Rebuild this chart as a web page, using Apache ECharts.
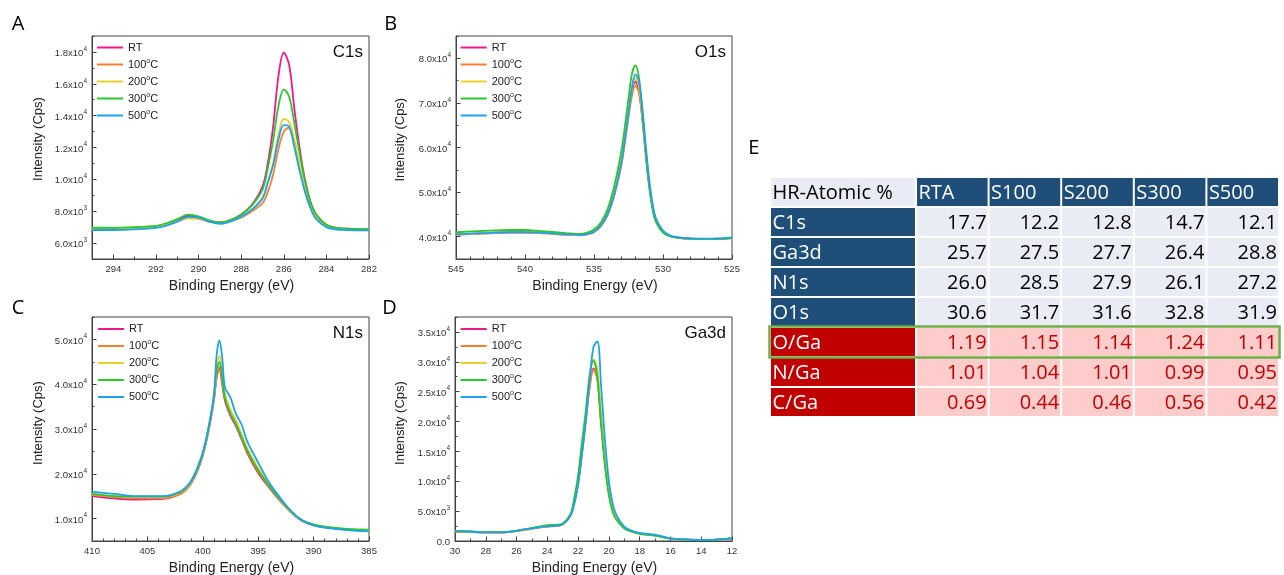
<!DOCTYPE html>
<html><head><meta charset="utf-8">
<script src="https://cdn.jsdelivr.net/npm/echarts@6/dist/echarts.min.js"></script>
<style>html,body{margin:0;padding:0;background:#fff}#c{width:1284px;height:575px}</style>
</head><body><div id="c"></div>
<script>
// ---------- series meta ----------
const seriesNames = ['RT', '100°C', '200°C', '300°C', '500°C'];
const seriesColors = ['#ec1a8a', '#f28030', '#e6d02a', '#2bc72b', '#1da1f2'];

// ---------- A: C1s ----------
const c1sEnergy = [295, 294, 293, 292, 291.5, 291, 290.5, 290, 289.5, 289, 288.5, 288, 287.5, 287, 286.75, 286.5, 286.25, 286, 285.75, 285.5, 285.25, 285, 284.75, 284.5, 284, 283.5, 283, 282.5, 282];
const c1sRT   = [6900, 6900, 6950, 7050, 7200, 7450, 7700, 7650, 7400, 7300, 7450, 7800, 8400, 9550, 11000, 13300, 16500, 17950, 17200, 14400, 11900, 9950, 8600, 7800, 7150, 6950, 6900, 6880, 6850];
const c1s100  = [6880, 6870, 6900, 7000, 7150, 7350, 7560, 7520, 7350, 7270, 7380, 7600, 8000, 8500, 9200, 10300, 11900, 13000, 13250, 12200, 10700, 9250, 8250, 7600, 7050, 6900, 6870, 6850, 6850];
const c1s200  = [6880, 6880, 6920, 7000, 7150, 7380, 7550, 7530, 7350, 7270, 7380, 7650, 8100, 8850, 9800, 11000, 12800, 13800, 13600, 12500, 10900, 9300, 8300, 7650, 7050, 6900, 6870, 6860, 6850];
const c1s300  = [6970, 6960, 7000, 7080, 7250, 7500, 7780, 7680, 7420, 7300, 7450, 7780, 8350, 9350, 10700, 12450, 14600, 15650, 15200, 13500, 11600, 9850, 8600, 7850, 7150, 6950, 6900, 6880, 6870];
const c1s500  = [6820, 6820, 6860, 6950, 7100, 7350, 7650, 7600, 7350, 7200, 7350, 7650, 8100, 8800, 9800, 10900, 12500, 13400, 13300, 12000, 10500, 9200, 8200, 7550, 7000, 6850, 6820, 6800, 6800];
const c1sXTicks = [282, 284, 286, 288, 290, 292, 294];
const c1sYTicks = [6000, 8000, 10000, 12000, 14000, 16000, 18000];

// ---------- B: O1s ----------
const o1sEnergy = [545, 543, 541, 540, 539, 537, 536, 535.5, 535, 534.5, 534, 533.5, 533, 532.75, 532.5, 532.25, 532, 531.75, 531.5, 531.25, 531, 530.75, 530.5, 530, 529.5, 529, 528, 527, 526, 525];
const o1sRT   = [40500, 40800, 41000, 41000, 40900, 40500, 40400, 40600, 41200, 42600, 45300, 50000, 57000, 62000, 67500, 72500, 74800, 72800, 66500, 58500, 51500, 46500, 43500, 41000, 40100, 39800, 39500, 39450, 39500, 39700];
const o1s100  = [40400, 40700, 40900, 40900, 40800, 40400, 40300, 40500, 41000, 42300, 44900, 49500, 56300, 61300, 66800, 71600, 73800, 72300, 66500, 58800, 51800, 46700, 43600, 41100, 40200, 39850, 39550, 39500, 39550, 39750];
const o1s200  = [40500, 40800, 41000, 41000, 40900, 40500, 40400, 40600, 41200, 42600, 45300, 50200, 57200, 62300, 67800, 73200, 75600, 73800, 67500, 59300, 52000, 46800, 43700, 41100, 40200, 39850, 39550, 39500, 39550, 39750];
const o1s300  = [41000, 41300, 41500, 41500, 41300, 40800, 40600, 40900, 41600, 43200, 46300, 51800, 59500, 65000, 71000, 76500, 78400, 75800, 68000, 58800, 51300, 46000, 43200, 40900, 40100, 39800, 39550, 39500, 39500, 39700];
const o1s500  = [40500, 40800, 41000, 41000, 40900, 40500, 40400, 40600, 41100, 42500, 45100, 49900, 56800, 62000, 67600, 73500, 76400, 75000, 69000, 60500, 52800, 47300, 44000, 41400, 40300, 39900, 39600, 39550, 39600, 39850];
const o1sXTicks = [525, 530, 535, 540, 545];
const o1sYTicks = [40000, 50000, 60000, 70000, 80000];

// ---------- C: N1s ----------
const n1sEnergy = [410, 408, 406, 404, 403, 402, 401.5, 401, 400.5, 400, 399.5, 399, 398.75, 398.5, 398.25, 398, 397.5, 397, 396.5, 396, 395, 394, 393, 392, 391, 390, 389, 387, 385];
const n1sRT   = [15000, 14500, 14250, 14350, 14600, 15600, 16600, 18200, 20800, 24300, 29500, 36500, 41500, 43500, 40000, 36300, 32900, 30600, 27700, 24700, 20200, 16900, 13900, 11300, 9400, 8500, 8050, 7550, 7300];
const n1s100  = [15300, 14800, 14500, 14500, 14700, 15500, 16400, 18000, 20500, 24000, 29200, 36300, 41800, 43900, 40500, 36800, 33300, 31000, 28000, 25000, 20500, 17100, 14000, 11300, 9450, 8550, 8100, 7600, 7350];
const n1s200  = [15500, 15000, 14800, 14800, 15000, 15900, 16800, 18400, 21000, 24500, 29800, 37000, 43500, 46300, 42800, 37800, 34300, 31900, 28800, 25800, 21300, 17500, 14200, 11400, 9450, 8550, 8100, 7600, 7400];
const n1s300  = [15500, 15000, 14900, 14900, 15100, 16000, 17000, 18700, 21300, 24800, 30200, 37200, 43200, 45000, 41500, 37000, 33500, 31100, 28200, 25300, 20800, 17300, 14200, 11500, 9600, 8700, 8200, 7700, 7550];
const n1s500  = [16000, 15500, 15000, 15000, 15200, 16100, 17000, 18500, 21000, 24500, 29800, 37500, 46500, 49800, 46000, 39300, 37000, 33300, 31000, 27300, 22500, 18000, 14600, 11600, 9500, 8500, 8000, 7450, 7150];
const n1sXTicks = [385, 390, 395, 400, 405, 410];
const n1sYTicks = [10000, 20000, 30000, 40000, 50000];

// ---------- D: Ga3d ----------
const ga3dEnergy = [30, 29, 28, 27, 26, 25, 24, 23.5, 23, 22.5, 22.25, 22, 21.75, 21.5, 21.25, 21, 20.75, 20.5, 20.25, 20, 19.75, 19.5, 19, 18.5, 18, 17, 16, 15, 14, 13, 12];
const ga3dRT  = [1650, 1550, 1450, 1450, 1700, 2100, 2450, 2550, 2800, 4300, 6500, 9900, 15000, 20500, 26000, 28900, 27000, 19500, 13000, 8200, 5200, 3700, 2200, 1600, 1250, 950, 400, 230, 180, 230, 450];
const ga3d100 = [1550, 1500, 1400, 1400, 1650, 2050, 2400, 2500, 2750, 4200, 6300, 9600, 14600, 20000, 25600, 28700, 27200, 20000, 13400, 8500, 5400, 3800, 2250, 1600, 1250, 950, 420, 240, 180, 230, 450];
const ga3d200 = [1650, 1550, 1450, 1450, 1700, 2100, 2500, 2600, 2850, 4400, 6700, 10200, 15500, 21000, 27200, 30400, 28800, 21000, 13800, 8500, 5300, 3700, 2200, 1600, 1250, 950, 400, 230, 180, 230, 450];
const ga3d300 = [1700, 1600, 1500, 1500, 1750, 2200, 2650, 2700, 2950, 4500, 7200, 11000, 16500, 21800, 27800, 30200, 27500, 19500, 12500, 7600, 4800, 3500, 2100, 1550, 1200, 900, 380, 220, 170, 220, 430];
const ga3d500 = [1600, 1550, 1450, 1450, 1700, 2100, 2450, 2550, 2800, 4200, 6200, 9400, 14500, 20100, 27000, 32500, 33400, 25700, 16700, 10000, 6200, 4300, 2400, 1700, 1350, 1050, 450, 250, 180, 230, 480];
const ga3dXTicks = [12, 14, 16, 18, 20, 22, 24, 26, 28, 30];
const ga3dYTicks = [0, 5000, 10000, 15000, 20000, 25000, 30000, 35000];

// ---------- E: table ----------
const tableCorner = 'HR-Atomic %';
const tableCols = ['RTA', 'S100', 'S200', 'S300', 'S500'];
const atomicRows = ['C1s', 'Ga3d', 'N1s', 'O1s'];
const atomicC1s  = [17.7, 12.2, 12.8, 14.7, 12.1];
const atomicGa3d = [25.7, 27.5, 27.7, 26.4, 28.8];
const atomicN1s  = [26.0, 28.5, 27.9, 26.1, 27.2];
const atomicO1s  = [30.6, 31.7, 31.6, 32.8, 31.9];
const ratioRows = ['O/Ga', 'N/Ga', 'C/Ga'];
const ratioOGa = [1.19, 1.15, 1.14, 1.24, 1.11];
const ratioNGa = [1.01, 1.04, 1.01, 0.99, 0.95];
const ratioCGa = [0.69, 0.44, 0.46, 0.56, 0.42];

// ---------- layout ----------
const FONT = "'Liberation Sans', Arial, sans-serif";
const TFONT = "'Open Sans', 'Noto Sans', sans-serif";
const AX = '#444';

const panels = [
  {letter: 'A', lx: 11.7, ly: 24, title: 'C1s', energy: c1sEnergy, ys: [c1sRT, c1s100, c1s200, c1s300, c1s500],
   g: [92, 36, 277, 223], xMin: 282, xMax: 295, xTicks: c1sXTicks, xMinor: 1, yMin: 5000, yMax: 19000, yTicks: c1sYTicks, yMinor: 1000,
   leg: [97, 40.5], yTitleX: 38.3, yTitleY: 139, xTitleY: 286},
  {letter: 'B', lx: 384.3, ly: 24, title: 'O1s', energy: o1sEnergy, ys: [o1sRT, o1s100, o1s200, o1s300, o1s500],
   g: [456, 36, 276, 223], xMin: 525, xMax: 545, xTicks: o1sXTicks, xMinor: 1, yMin: 35000, yMax: 85000, yTicks: o1sYTicks, yMinor: 5000,
   leg: [460.7, 40.5], yTitleX: 400.7, yTitleY: 139.7, xTitleY: 286},
  {letter: 'C', lx: 11.7, ly: 308, title: 'N1s', energy: n1sEnergy, ys: [n1sRT, n1s100, n1s200, n1s300, n1s500],
   g: [92, 317, 277, 224], xMin: 385, xMax: 410, xTicks: n1sXTicks, xMinor: 1, yMin: 5000, yMax: 55000, yTicks: n1sYTicks, yMinor: 5000,
   leg: [98, 322], yTitleX: 38.3, yTitleY: 423, xTitleY: 568},
  {letter: 'D', lx: 382.3, ly: 308, title: 'Ga3d', energy: ga3dEnergy, ys: [ga3dRT, ga3d100, ga3d200, ga3d300, ga3d500],
   g: [455, 317, 277, 224], xMin: 12, xMax: 30, xTicks: ga3dXTicks, xMinor: 1, yMin: 0, yMax: 37500, yTicks: ga3dYTicks, yMinor: 2500,
   leg: [460.7, 322], yTitleX: 400.7, yTitleY: 423, xTitleY: 568}
];

function sciLabel(v) {
  if (v === 0) return '{m|0.0}';
  const e = Math.floor(Math.log10(v) + 1e-9);
  const m = (v / Math.pow(10, e)).toFixed(1);
  return '{m|' + m + 'x10}{s|' + e + '}';
}
const sciRich = {
  m: {fontSize: 9.5, color: '#333', fontFamily: FONT, lineHeight: 13, verticalAlign: 'bottom'},
  s: {fontSize: 6.5, color: '#333', fontFamily: FONT, lineHeight: 6, verticalAlign: 'top'}
};

const option = {animation: false, backgroundColor: '#fff', grid: [], xAxis: [], yAxis: [], series: [], legend: [], graphic: []};

panels.forEach((p, i) => {
  option.grid.push({left: p.g[0], top: p.g[1], width: p.g[2], height: p.g[3], show: true, borderColor: AX, borderWidth: 1, backgroundColor: 'transparent'});
  option.xAxis.push({type: 'value', gridIndex: i, position: 'bottom', min: p.xMin, max: p.xMax, inverse: true,
    axisLine: {show: true, onZero: false, lineStyle: {color: AX, width: 1}},
    axisTick: {show: true, inside: true, length: 4.5, lineStyle: {color: AX}, customValues: p.xTicks},
    axisLabel: {show: true, customValues: p.xTicks, color: '#333', fontSize: 9.5, fontFamily: FONT, margin: 5, formatter: v => String(v)},
    splitLine: {show: false}});
  option.xAxis.push({type: 'value', gridIndex: i, position: 'bottom', min: p.xMin, max: p.xMax, interval: p.xMinor, inverse: true,
    axisLine: {show: false, onZero: false}, axisTick: {show: true, inside: true, length: 2.5, lineStyle: {color: AX}},
    axisLabel: {show: false}, splitLine: {show: false}});
  option.yAxis.push({type: 'value', gridIndex: i, position: 'left', min: p.yMin, max: p.yMax,
    axisLine: {show: true, onZero: false, lineStyle: {color: AX, width: 1}},
    axisTick: {show: true, inside: true, length: 4.5, lineStyle: {color: AX}, customValues: p.yTicks},
    axisLabel: {show: true, customValues: p.yTicks, margin: 5, formatter: sciLabel, rich: sciRich},
    splitLine: {show: false}});
  option.yAxis.push({type: 'value', gridIndex: i, position: 'left', min: p.yMin, max: p.yMax, interval: p.yMinor,
    axisLine: {show: false, onZero: false}, axisTick: {show: true, inside: true, length: 2.5, lineStyle: {color: AX}},
    axisLabel: {show: false}, splitLine: {show: false}});

  p.ys.forEach((vals, k) => {
    option.series.push({type: 'line', name: seriesNames[k], xAxisIndex: 2 * i, yAxisIndex: 2 * i,
      data: p.energy.map((e, j) => [e, vals[j]]), showSymbol: false, symbol: 'none', smooth: 0.35,
      color: seriesColors[k], lineStyle: {color: seriesColors[k], width: 1.8}, z: 2 + k});
  });

  option.legend.push({orient: 'vertical', left: p.leg[0], top: p.leg[1], icon: 'rect', itemWidth: 26, itemHeight: 2, itemGap: 3,
    selectedMode: false, data: seriesNames, padding: 0,
    formatter: n => n.replace('°C', '{s|o}C'),
    textStyle: {fontSize: 11, color: '#222', fontFamily: FONT, lineHeight: 14,
      rich: {s: {fontSize: 7, color: '#222', fontFamily: FONT, lineHeight: 7, verticalAlign: 'top'}}}});

  option.graphic.push({type: 'text', x: p.lx, y: p.ly, style: {text: p.letter, font: '20px ' + TFONT, fill: '#000', textAlign: 'left', textVerticalAlign: 'middle'}});
  option.graphic.push({type: 'text', x: p.g[0] + p.g[2] - 6, y: p.g[1] + 16, style: {text: p.title, font: '17px ' + FONT, fill: '#111', textAlign: 'right', textVerticalAlign: 'middle'}});
  option.graphic.push({type: 'text', x: p.yTitleX, y: p.yTitleY, rotation: Math.PI / 2, style: {text: 'Intensity (Cps)', font: '13px ' + FONT, fill: '#222', textAlign: 'center', textVerticalAlign: 'middle'}});
  option.graphic.push({type: 'text', x: p.g[0] + p.g[2] / 2 + 1, y: p.xTitleY, style: {text: 'Binding Energy (eV)', font: '14px ' + FONT, fill: '#222', textAlign: 'center', textVerticalAlign: 'middle'}});
});

// ---------- table E ----------
option.graphic.push({type: 'text', x: 748.3, y: 148, style: {text: 'E', font: '20px ' + TFONT, fill: '#000', textAlign: 'left', textVerticalAlign: 'middle'}});
const T = {left: 771, top: 178, firstW: 144, colPitch: 72.6, rowPitch: 30, cellH: 28, gap: 2};
const DARK = '#1f4e79', LIGHT = '#e9ebf5', RED = '#c00000', PINK = '#ffcccc';
function cell(x, y, w, fill) {
  option.graphic.push({type: 'rect', shape: {x: x, y: y, width: w, height: T.cellH}, style: {fill: fill}, silent: true});
}
function txt(x, y, s, color, align) {
  option.graphic.push({type: 'text', x: x, y: y + T.cellH / 2 + 1, style: {text: s, font: '20px ' + TFONT, fill: color, textAlign: align, textVerticalAlign: 'middle'}, silent: true});
}
const colX = tableCols.map((c, j) => T.left + T.firstW + T.gap + j * T.colPitch);
const colW = T.colPitch - T.gap;
cell(T.left, T.top, T.firstW, LIGHT);
txt(T.left + 1.5, T.top, tableCorner, '#000', 'left');
tableCols.forEach((c, j) => { cell(colX[j], T.top, colW, DARK); txt(colX[j] + 1.5, T.top, c, '#fff', 'left'); });
const atomicVals = [atomicC1s, atomicGa3d, atomicN1s, atomicO1s];
atomicRows.forEach((r, i) => {
  const y = T.top + (i + 1) * T.rowPitch;
  cell(T.left, y, T.firstW, DARK); txt(T.left + 1.5, y, r, '#fff', 'left');
  atomicVals[i].forEach((v, j) => { cell(colX[j], y, colW, LIGHT); txt(colX[j] + colW - 1, y, v.toFixed(1), '#000', 'right'); });
});
const ratioVals = [ratioOGa, ratioNGa, ratioCGa];
ratioRows.forEach((r, i) => {
  const y = T.top + (i + 5) * T.rowPitch;
  cell(T.left, y, T.firstW, RED); txt(T.left + 1.5, y, r, '#fff', 'left');
  ratioVals[i].forEach((v, j) => { cell(colX[j], y, colW, PINK); txt(colX[j] + colW - 1, y, v.toFixed(2), RED, 'right'); });
});
const hy = T.top + 5 * T.rowPitch;
option.graphic.push({type: 'rect', shape: {x: T.left - 1.5, y: hy - 1.5, width: colX[4] + colW - T.left + 3, height: T.cellH + 3},
  style: {fill: 'none', stroke: '#70ad47', lineWidth: 2.5}, silent: true, z: 100});

const chart = echarts.init(document.getElementById('c'), null, {renderer: 'canvas'});
chart.setOption(option);
</script></body></html>
